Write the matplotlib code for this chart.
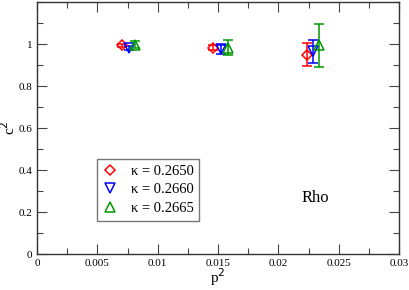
import matplotlib.pyplot as plt
from matplotlib.lines import Line2D
from matplotlib.ticker import FixedLocator, MultipleLocator

plt.rcParams['font.family'] = ['Liberation Serif', 'DejaVu Serif']

labels = ["κ = 0.2650", "κ = 0.2660", "κ = 0.2665"]
colors = ["#ff0000", "#0000ff", "#009900"]
markers = ["D", "v", "^"]

p2 = [
    [0.00705, 0.01460, 0.02240],
    [0.00762, 0.01525, 0.02285],
    [0.00812, 0.01583, 0.02340],
]
c2 = [
    [0.993, 0.983, 0.948],
    [0.982, 0.975, 0.965],
    [0.997, 0.982, 0.993],
]
c2_err = [
    [0.008, 0.012, 0.055],
    [0.010, 0.022, 0.055],
    [0.015, 0.035, 0.102],
]

x_ticks = [0, 0.005, 0.01, 0.015, 0.02, 0.025, 0.03]
x_ticklabels = ["0", "0.005", "0.01", "0.015", "0.02", "0.025", "0.03"]
y_ticks = [0, 0.2, 0.4, 0.6, 0.8, 1.0]
y_ticklabels = ["0", "0.2", "0.4", "0.6", "0.8", "1"]

fig = plt.figure(figsize=(4.09, 2.90), dpi=100)
ax = fig.add_axes([37 / 409, 36 / 290, 362 / 409, 252 / 290])

handles = []
for i in range(3):
    ms = 5.5 if markers[i] == "D" else 7
    ax.errorbar(p2[i], c2[i], yerr=c2_err[i], fmt=markers[i], color=colors[i],
                mfc="none", mec=colors[i], ms=ms, mew=1.1, elinewidth=1.1,
                capsize=3.5, capthick=1.1)
    handles.append(Line2D([], [], ls="none", marker=markers[i], ms=ms,
                          mfc="none", mec=colors[i], mew=1.1, label=labels[i]))

ax.set_xlim(0, 0.03)
ax.set_ylim(0, 1.2)
ax.xaxis.set_major_locator(FixedLocator(x_ticks))
ax.xaxis.set_minor_locator(MultipleLocator(0.0025))
ax.yaxis.set_major_locator(FixedLocator(y_ticks))
ax.yaxis.set_minor_locator(MultipleLocator(0.1))
ax.set_xticklabels(x_ticklabels)
ax.set_yticklabels(y_ticklabels)
ax.tick_params(which="both", direction="in", top=True, right=True,
               labelsize=8, width=0.8, color="#444444")
ax.tick_params(which="major", length=7)
ax.tick_params(which="minor", length=4)
for s in ax.spines.values():
    s.set_linewidth(1.0)
    s.set_color("#333333")

ax.set_xlabel(r"p$^{2}$", fontsize=11, labelpad=-1)
ax.set_ylabel(r"c$^{2}$", fontsize=11, va="center")
ax.yaxis.set_label_coords(-0.078, 0.5)

ax.text(0.0231, 0.265, "Rho", fontsize=12, ha="center", va="center")

leg = ax.legend(handles=handles, loc="upper left",
                bbox_to_anchor=(60 / 362, 95 / 252),
                frameon=True, fancybox=False, fontsize=10.5,
                handlelength=1.0, handletextpad=0.9, borderpad=0.4,
                borderaxespad=0, labelspacing=0.35)
leg.get_frame().set_edgecolor("#555555")
leg.get_frame().set_linewidth(1.0)

fig.savefig("out.png", dpi=100)
